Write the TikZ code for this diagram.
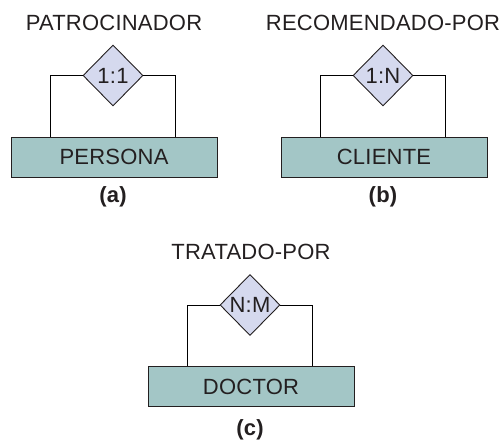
\documentclass[tikz,border=0pt]{standalone}
\usepackage{fontspec}
\setmainfont{Liberation Sans}[LetterSpace=1]
\usetikzlibrary{shapes.geometric}

\definecolor{entfill}{RGB}{163,198,198}
\definecolor{relfill}{RGB}{213,217,238}
\definecolor{inkgray}{RGB}{35,31,32}

\begin{document}
\begin{tikzpicture}[
  x=1pt, y=-1pt,
  entity/.style={draw=inkgray, fill=entfill, minimum width=206pt, minimum height=40pt,
                 inner sep=0pt, font=\fontsize{22}{26}\selectfont, text=inkgray, line width=0.9pt},
  rel/.style={diamond, draw=inkgray, fill=relfill, minimum width=60pt, minimum height=61pt,
              inner sep=0pt, font=\fontsize{22}{26}\selectfont, text=inkgray, line width=0.9pt},
  title/.style={font=\fontsize{22}{26}\selectfont, text=inkgray},
  tag/.style={font=\fontsize{22}{26}\selectfont\bfseries, text=inkgray},
  link/.style={draw=black, line width=0.8pt}
]
  \useasboundingbox (0,0) rectangle (502,443);

  % (a)
  \node[title]  (tA) at (114,23)  {PATROCINADOR};
  \node[rel]    (dA) at (113,75.5) {1:1};
  \node[entity] (eA) at (114,157) {PERSONA};
  \node[tag]    (lA) at (113,197) {(a)};
  \draw[link] (dA.west) -| ([xshift=40pt]eA.north west);
  \draw[link] (dA.east) -| ([xshift=-42pt]eA.north east);

  % (b)
  \node[title]  (tB) at (383,23)  {RECOMENDADO-POR};
  \node[rel]    (dB) at (383,75.5) {1:N};
  \node[entity] (eB) at (384,157) {CLIENTE};
  \node[tag]    (lB) at (383,197) {(b)};
  \draw[link] (dB.west) -| ([xshift=40pt]eB.north west);
  \draw[link] (dB.east) -| ([xshift=-42pt]eB.north east);

  % (c)
  \node[title]  (tC) at (251,252) {TRATADO-POR};
  \node[rel]    (dC) at (250,305) {N:M};
  \node[entity] (eC) at (251,386.5) {DOCTOR};
  \node[tag]    (lC) at (250,430) {(c)};
  \draw[link] (dC.west) -| ([xshift=40pt]eC.north west);
  \draw[link] (dC.east) -| ([xshift=-42pt]eC.north east);
\end{tikzpicture}
\end{document}
